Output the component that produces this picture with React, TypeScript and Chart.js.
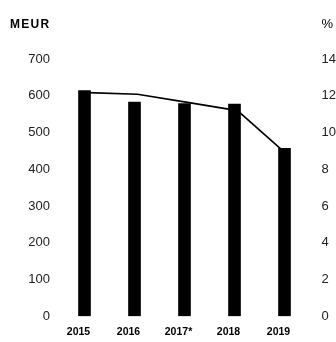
import React, { useEffect, useRef } from "react";
import { Chart, registerables } from "chart.js";

Chart.register(...registerables);

const categories = ["2015", "2016", "2017*", "2018", "2019"];
const meurValues = [614, 583, 579, 577, 457];
const percentValues = [12.17, 12.08, 11.64, 11.19, 8.78];
const leftTitle = "MEUR";
const rightTitle = "%";

const FONT = "'Liberation Sans', Arial, Helvetica, sans-serif";

export default function App() {
  const canvasRef = useRef<HTMLCanvasElement | null>(null);

  useEffect(() => {
    const canvas = canvasRef.current;
    if (!canvas) return;

    const titlePlugin = {
      id: "cornerTitles",
      afterDraw(chart: any) {
        const ctx = chart.ctx;
        ctx.save();
        ctx.fillStyle = "#000";
        ctx.textBaseline = "alphabetic";
        ctx.font = `bold 12px ${FONT}`;
        ctx.textAlign = "left";
        (ctx as any).letterSpacing = "1.3px";
        ctx.fillText(leftTitle, 10, 28.3);
        (ctx as any).letterSpacing = "0px";
        ctx.font = `13px ${FONT}`;
        ctx.fillText(rightTitle, 321.5, 28.3);
        ctx.restore();
      },
    };

    const chart = new Chart(canvas, {
      type: "bar",
      data: {
        labels: categories,
        datasets: [
          {
            type: "line",
            data: percentValues.map((v, i) => ({ x: i, y: v })) as any,
            xAxisID: "xl",
            yAxisID: "y2",
            borderColor: "#000",
            borderWidth: 1.6,
            pointRadius: 0,
            tension: 0,
            fill: false,
            order: 0,
          } as any,
          {
            type: "bar",
            data: meurValues,
            xAxisID: "x",
            yAxisID: "y",
            backgroundColor: "#000",
            borderWidth: 0,
            barThickness: 12,
            order: 1,
          },
        ],
      },
      options: {
        animation: false,
        responsive: false,
        maintainAspectRatio: false,
        layout: { padding: { top: 59, left: 0, right: 0, bottom: 0 } },
        plugins: {
          legend: { display: false },
          tooltip: { enabled: false },
        },
        scales: {
          x: {
            type: "category",
            offset: true,
            grid: { display: false, drawTicks: false },
            border: { display: false },
            ticks: {
              color: "#000",
              padding: 10,
              font: { family: FONT, size: 10.5, weight: "bold" },
              maxRotation: 0,
            },
            afterFit(scale: any) {
              scale.height = 21;
            },
          },
          xl: {
            type: "linear",
            display: false,
            offset: false,
            grace: 0,
            bounds: "ticks",
            min: -0.68,
            max: 4.32,
          },
          y: {
            position: "left",
            min: 0,
            max: 700,
            grid: { display: false, drawTicks: false },
            border: { display: false },
            ticks: {
              stepSize: 100,
              color: "#222",
              padding: 3.5,
              font: { family: FONT, size: 13 },
            },
            afterFit(scale: any) {
              scale.width = 53.5;
            },
          },
          y2: {
            position: "right",
            min: 0,
            max: 14,
            grid: { display: false, drawTicks: false },
            border: { display: false },
            ticks: {
              stepSize: 2,
              color: "#222",
              padding: 18,
              font: { family: FONT, size: 13 },
            },
            afterFit(scale: any) {
              scale.width = 32.5;
            },
          },
        },
      } as any,
      plugins: [titlePlugin],
    });

    return () => chart.destroy();
  }, []);

  return (
    <div style={{ position: "absolute", left: 0, top: 0, width: 336, height: 342, background: "#fff" }}>
      <canvas ref={canvasRef} width={336} height={342} style={{ display: "block", width: 336, height: 342 }} />
    </div>
  );
}
